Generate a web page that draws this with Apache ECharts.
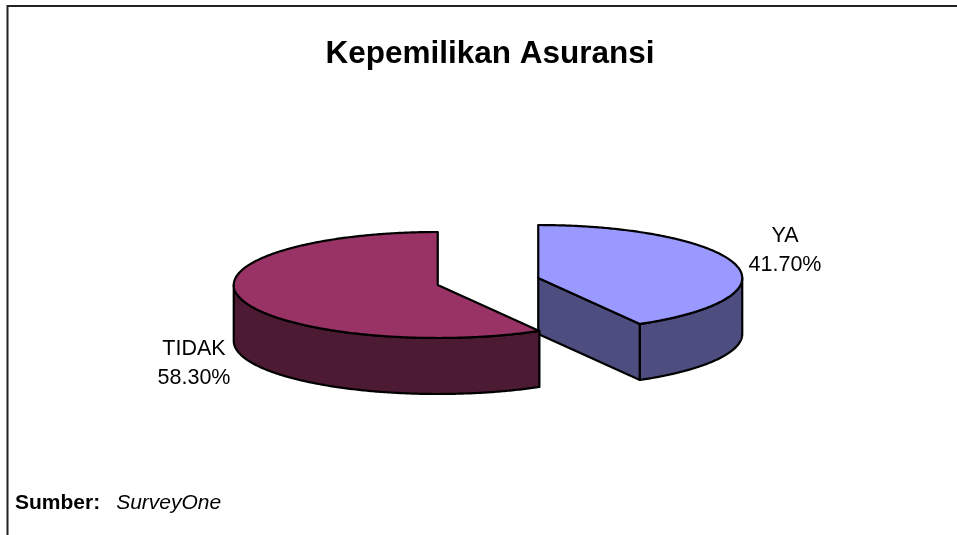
<!DOCTYPE html>
<html>
<head>
<meta charset="utf-8">
<style>html,body{margin:0;padding:0;background:#fff}#c{width:957px;height:535px}</style>
<script src="https://cdn.jsdelivr.net/npm/echarts@6/dist/echarts.min.js"></script>
</head>
<body>
<div id="c"></div>
<script>
const titleText = 'Kepemilikan Asuransi';
const sourceLabel = 'Sumber:';
const sourceName = 'SurveyOne';
const categories = ['YA', 'TIDAK'];
const shares = [41.7, 58.3];
const topColors = ['#9999FF', '#993366'];
const wallColors = ['#4D4D80', '#4D1A33'];
const labelPositions = [[785, 250.5], [194, 363.5]];

const CX = 488, CY = 281.5, RX = 204, RY = 53, DEPTH = 56, EXPLODE = 52;
const FONT = '"Liberation Sans", Arial, sans-serif';
const total = shares.reduce((a, b) => a + b, 0);

function rim(c, a, dy) {
  return [c[0] + RX * Math.sin(a), c[1] - RY * Math.cos(a) + (dy || 0)];
}
function arc(c, a1, a2, dy) {
  const n = Math.max(2, Math.ceil(Math.abs(a2 - a1) / 0.01)), pts = [];
  for (let i = 0; i <= n; i++) pts.push(rim(c, a1 + (a2 - a1) * i / n, dy));
  return pts;
}
function renderItem(params, api) {
  const i = params.dataIndex;
  let before = 0;
  for (let k = 0; k < i; k++) before += shares[k];
  const value = api.value(1);
  const a1 = before / total * 2 * Math.PI;
  const a2 = (before + value) / total * 2 * Math.PI;
  const mid = (a1 + a2) / 2;
  const c = [CX + EXPLODE * Math.sin(mid), CY - EXPLODE * Math.cos(mid) * RY / RX];
  const line = { stroke: '#000', lineWidth: 2.2, lineJoin: 'round' };
  const kids = [];
  const poly = (points, fill) => kids.push({
    type: 'polygon', shape: { points }, style: Object.assign({ fill }, line)
  });
  if (a2 < Math.PI) {
    const p = rim(c, a2);
    poly([c, p, [p[0], p[1] + DEPTH], [c[0], c[1] + DEPTH]], wallColors[i]);
  }
  const w1 = Math.max(a1, Math.PI / 2), w2 = Math.min(a2, 3 * Math.PI / 2);
  if (w2 > w1) {
    poly(arc(c, w1, w2).concat(arc(c, w2, w1, DEPTH)), wallColors[i]);
  }
  poly([c].concat(arc(c, a1, a2)), topColors[i]);
  kids.push({
    type: 'text',
    style: {
      x: labelPositions[i][0], y: labelPositions[i][1],
      text: categories[i] + '\n' + value.toFixed(2) + '%',
      align: 'center', verticalAlign: 'middle',
      font: '21.5px ' + FONT, lineHeight: 29, fill: '#000'
    }
  });
  return { type: 'group', children: kids };
}

const chart = echarts.init(document.getElementById('c'), null, { renderer: 'canvas' });
chart.setOption({
  animation: false,
  backgroundColor: '#fff',
  title: [
    { text: titleText, left: 485, top: 33, textAlign: 'center',
      textStyle: { fontFamily: FONT, fontWeight: 'bold', fontSize: 31.5, color: '#000' } },
    { text: '{b|' + sourceLabel + '} {i|' + sourceName + '}', left: 10, top: 488,
      textStyle: { rich: {
        b: { fontFamily: FONT, fontWeight: 'bold', fontSize: 21, padding: [0, 11, 0, 0], color: '#000' },
        i: { fontFamily: FONT, fontWeight: 'normal', fontStyle: 'italic', fontSize: 21, color: '#000' }
      } } }
  ],
  graphic: [
    { type: 'polyline', silent: true,
      shape: { points: [[7.5, 535], [7.5, 6], [957, 6]] },
      style: { stroke: '#222', lineWidth: 2, fill: 'none' } }
  ],
  series: [{
    type: 'custom',
    coordinateSystem: 'none',
    silent: true,
    renderItem,
    data: categories.map((n, i) => ({ name: n, value: [i, shares[i]] }))
  }]
});
</script>
</body>
</html>
